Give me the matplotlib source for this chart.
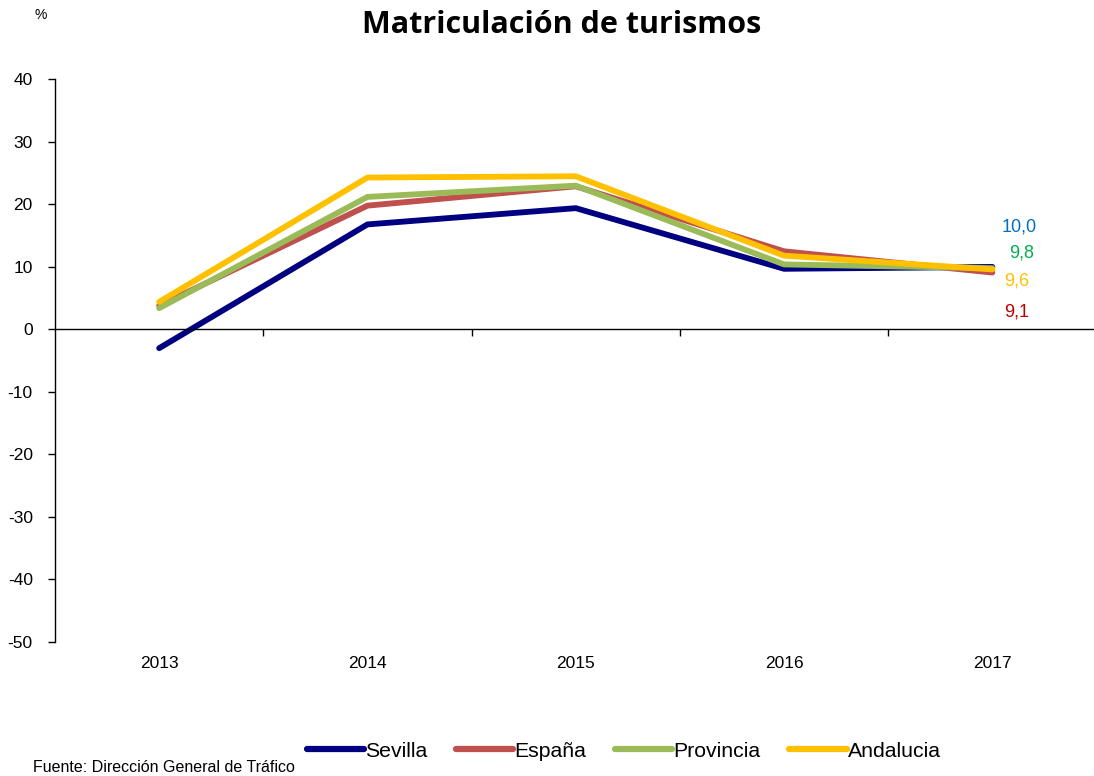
import numpy as np
import matplotlib
matplotlib.use("Agg")
import matplotlib.pyplot as plt
from matplotlib.transforms import blended_transform_factory

plt.rcParams['font.family'] = ['Liberation Sans', 'DejaVu Sans']
plt.rcParams['axes.unicode_minus'] = False

years = ['2013', '2014', '2015', '2016', '2017']
sevilla = [-3.0, 16.8, 19.4, 9.7, 10.0]
espana = [3.8, 19.8, 22.9, 12.5, 9.1]
provincia = [3.4, 21.2, 23.0, 10.4, 9.8]
andalucia = [4.4, 24.3, 24.5, 11.8, 9.6]

series = [
    ('Sevilla', sevilla, '#000080'),
    ('España', espana, '#C0504D'),
    ('Provincia', provincia, '#9BBB59'),
    ('Andalucia', andalucia, '#FFC000'),
]

# final-year labels: text, value, label colour, offset in pixels
end_labels = [
    ('10,0', sevilla[-1], '#0070C0', (27, 40)),
    ('9,8', provincia[-1], '#00B050', (29, 15)),
    ('9,6', andalucia[-1], '#FFC000', (24, -12)),
    ('9,1', espana[-1], '#C00000', (24, -39)),
]

fig = plt.figure(figsize=(10.94, 7.76), dpi=100)
ax = fig.add_axes([0.0503, 0.1727, 0.952, 0.725])

x = np.arange(len(years))
for name, vals, color in series:
    ax.plot(x, vals, color=color, lw=4.2, label=name, solid_capstyle='round')

for txt, v, color, off in end_labels:
    ax.annotate(txt, xy=(x[-1], v), xytext=off, textcoords='offset pixels',
                ha='center', va='center', color=color, fontsize=13)

ax.set_xlim(-0.5, 4.5)
ax.set_ylim(-50, 40)
ax.set_yticks(np.arange(-50, 41, 10))
ax.tick_params(axis='y', direction='out', length=5, width=1, labelsize=12.5, pad=11)

ax.spines['top'].set_visible(False)
ax.spines['right'].set_visible(False)
ax.spines['left'].set_linewidth(1)
ax.spines['bottom'].set_position(('data', 0))
ax.spines['bottom'].set_linewidth(1)

ax.set_xticks(np.arange(0.5, 4, 1))
ax.set_xticklabels([])
ax.tick_params(axis='x', direction='out', length=5, width=1)

trans = blended_transform_factory(ax.transData, ax.transAxes)
for i, yr in enumerate(years):
    ax.text(i, -0.038, yr, transform=trans, ha='center', va='center', fontsize=12.5)

fig.text(0.513, 0.968, 'Matriculación de turismos', ha='center', va='center',
         fontsize=22, fontweight='bold', family=['Open Sans', 'DejaVu Sans'])
fig.text(0.037, 0.981, '%', ha='center', va='center', fontsize=10)
fig.text(0.030, 0.011, 'Fuente: Dirección General de Tráfico', ha='left',
         va='center', fontsize=11.5)

leg = fig.legend(loc='center', bbox_to_anchor=(0.570, 0.032), ncol=4, frameon=False,
                 fontsize=15.3, handlelength=2.7, handletextpad=0.05, columnspacing=1.35)
for line in leg.get_lines():
    line.set_linewidth(4.5)

fig.savefig('out.png', dpi=100)
